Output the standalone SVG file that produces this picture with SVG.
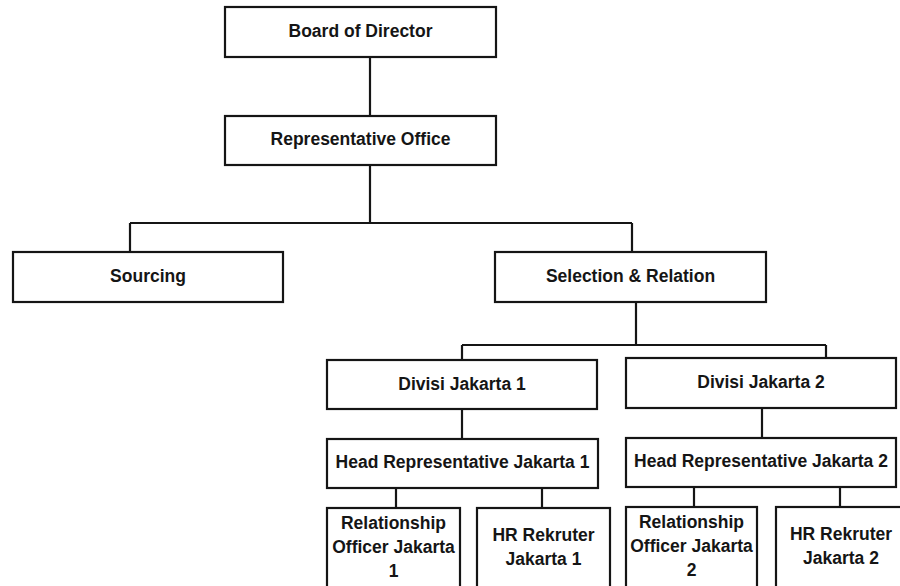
<svg xmlns="http://www.w3.org/2000/svg" width="900" height="586" viewBox="0 0 900 586">
<style>
.box{fill:#fff;stroke:#151515;stroke-width:2.2}
.ln{fill:none;stroke:#151515;stroke-width:2.2}
text{font-family:"Liberation Sans",Arial,sans-serif;font-weight:bold;font-size:17.5px;fill:#151515;text-anchor:middle}
</style>
<rect width="900" height="586" fill="#fff"/>
<g id="connectors">
<path class="ln" d="M370 57V116"/>
<path class="ln" d="M370 165V223M130 223H632M130 223V252M632 223V252"/>
<path class="ln" d="M636 302V345M462 345H826M462 345V360M826 345V358"/>
<path class="ln" d="M462 409V439"/>
<path class="ln" d="M762 408V438"/>
<path class="ln" d="M396 488V508M542 488V508"/>
<path class="ln" d="M694 487V507M840 487V507"/>
</g>
<g id="board"><rect class="box" x="225" y="7" width="271" height="50"/><text x="360.5" y="37">Board of Director</text></g>
<g id="rep-office"><rect class="box" x="225" y="116" width="271" height="49"/><text x="360.5" y="145">Representative Office</text></g>
<g id="sourcing"><rect class="box" x="13" y="252" width="270" height="50"/><text x="148" y="282">Sourcing</text></g>
<g id="selection"><rect class="box" x="495" y="252" width="271" height="50"/><text x="630.5" y="282">Selection &amp; Relation</text></g>
<g id="divisi1"><rect class="box" x="327" y="360" width="270" height="49"/><text x="462" y="390">Divisi Jakarta 1</text></g>
<g id="divisi2"><rect class="box" x="626" y="358" width="270" height="50"/><text x="761" y="388">Divisi Jakarta 2</text></g>
<g id="head1"><rect class="box" x="327" y="439" width="271" height="49"/><text x="462.5" y="468">Head Representative Jakarta 1</text></g>
<g id="head2"><rect class="box" x="626" y="438" width="270" height="49"/><text x="761" y="467">Head Representative Jakarta 2</text></g>
<g id="ro1"><rect class="box" x="327" y="508" width="133" height="95"/><text x="393.5" y="529">Relationship</text><text x="393.5" y="553">Officer Jakarta</text><text x="393.5" y="577">1</text></g>
<g id="hr1"><rect class="box" x="477" y="508" width="133" height="95"/><text x="543.5" y="541">HR Rekruter</text><text x="543.5" y="565">Jakarta 1</text></g>
<g id="ro2"><rect class="box" x="626" y="507" width="131" height="95"/><text x="691.5" y="528">Relationship</text><text x="691.5" y="552">Officer Jakarta</text><text x="691.5" y="576">2</text></g>
<g id="hr2"><rect class="box" x="776" y="507" width="132" height="95"/><text x="841" y="540">HR Rekruter</text><text x="841" y="564">Jakarta 2</text></g>
</svg>
